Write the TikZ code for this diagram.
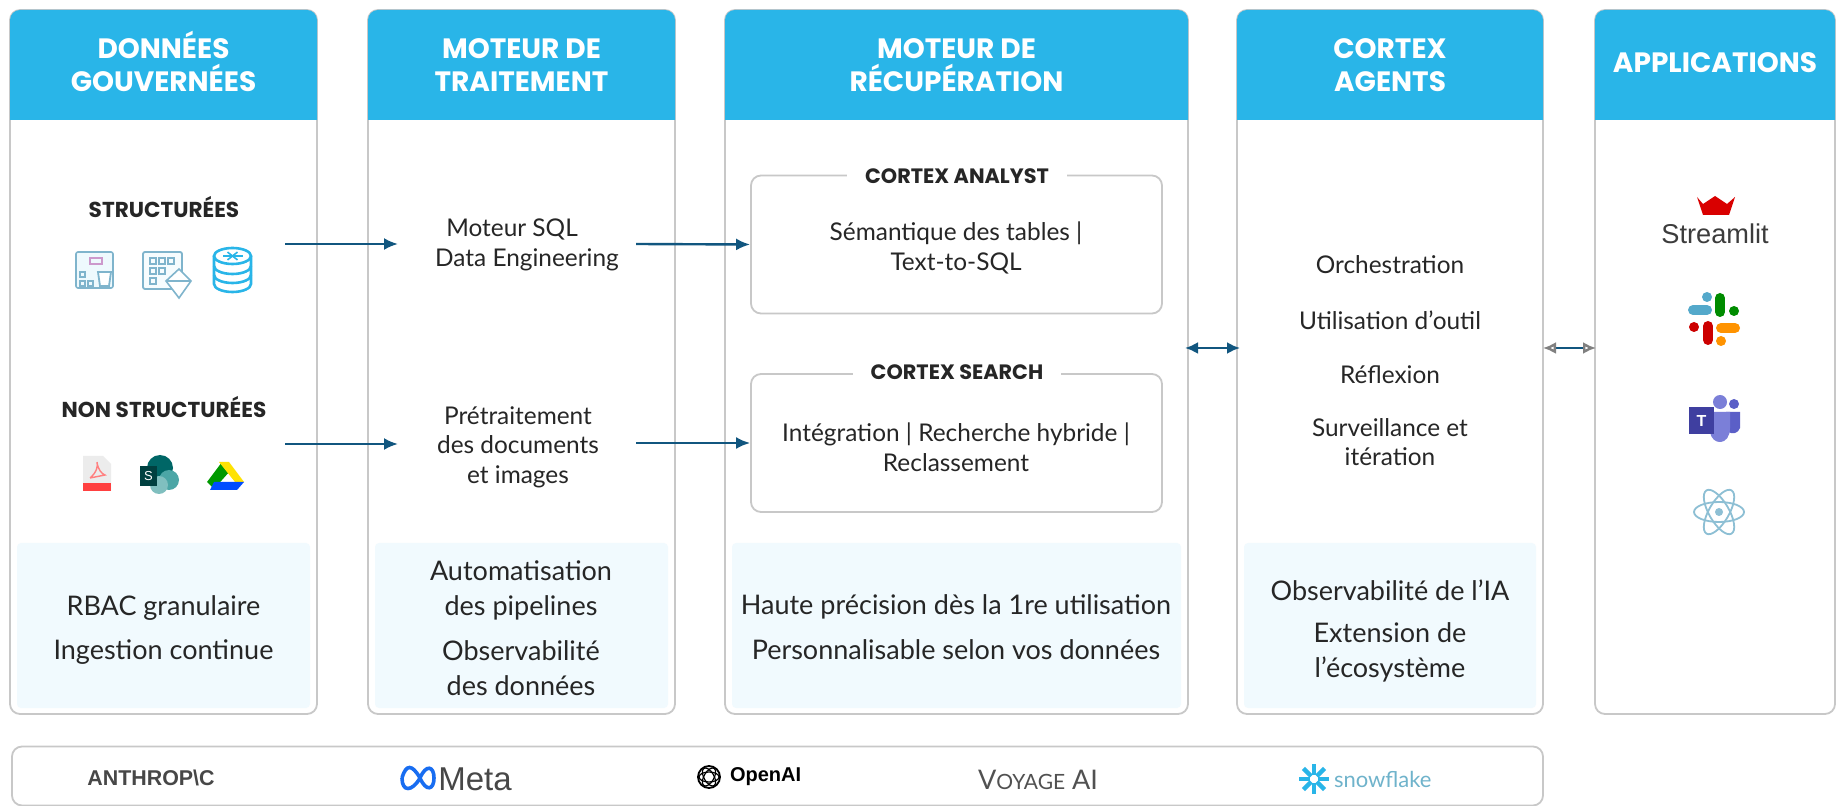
\documentclass[tikz,border=0pt]{standalone}
\usepackage{fontspec}
\setmainfont{Lato}
\newfontfamily\headfont{Poppins}
\newfontfamily\logofont{Liberation Sans}
\usetikzlibrary{arrows.meta}
\definecolor{headblue}{HTML}{29B5E8}
\definecolor{panelblue}{HTML}{F1FAFE}
\definecolor{framegray}{HTML}{C8C8C8}
\definecolor{arrowblue}{HTML}{11567F}
\definecolor{textdark}{HTML}{262626}
\definecolor{iconteal}{HTML}{7FB4CC}
\definecolor{teamsdark}{HTML}{3F3FA0}
\definecolor{teamsmid}{HTML}{5B5FC7}
\definecolor{teamslight}{HTML}{7B7FD8}
\tikzset{
    frame/.style={draw=framegray, line width=0.9pt, rounded corners=5pt, fill=white, inner sep=0pt},
    headtext/.style={text=white, font=\headfont\fontsize{14}{16.8}\selectfont\bfseries, align=center, anchor=base},
    bodytext/.style={text=textdark, font=\fontsize{12.2}{14.8}\selectfont, align=center},
    paneltext/.style={text=textdark, font=\fontsize{13.5}{17.5}\selectfont, align=center},
    subtext/.style={text=textdark, font=\headfont\fontsize{10.8}{12}\selectfont\bfseries},
    flow/.style={draw=arrowblue, line width=1.2pt, -{Latex[length=7pt,width=6pt]}},
    both/.style={draw=arrowblue, line width=1.2pt, {Latex[length=6.5pt,width=6pt]}-{Latex[length=6.5pt,width=6pt]}},
    open both/.style={draw=arrowblue, line width=1.2pt, {Latex[open,length=6.5pt,width=6pt,color=gray]}-{Latex[open,length=6.5pt,width=6pt,color=gray]}},
}
\begin{document}
\begin{tikzpicture}[x=0.5pt, y=-0.5pt]
    \useasboundingbox (0, 0) rectangle (1841, 806);

    % the five columns
    \foreach \name/\l/\r/\title/\ty in {
        data/10/317/{DONN\'EES\\GOUVERN\'EES}/92,
        engine/368/675/{MOTEUR DE\\TRAITEMENT}/92,
        retrieval/725/1188/{MOTEUR DE\\R\'ECUP\'ERATION}/92,
        agents/1237/1543/{CORTEX\\AGENTS}/92,
        apps/1595/1835/{APPLICATIONS}/73}{
        \node[frame, minimum width=(\r-\l)*0.5pt, minimum height=352pt] (\name) at ({(\l+\r)/2}, 362){};
        \fill[headblue] (\l, 120) [rounded corners=5pt] -- (\l, 10) -- (\r, 10) [sharp corners] -- (\r, 120) -- cycle;
        \node[headtext] (\name head) at ({(\l+\r)/2}, \ty){\title};
    }

    % light panels at the foot of four columns
    \foreach \l/\r in {17/310, 375/668, 732/1181, 1244/1536}{
        \fill[panelblue, rounded corners=2pt] (\l, 543) rectangle (\r, 708);
    }
    \node[paneltext] (p1) at (163.5, 608.5){RBAC granulaire};
    \node[paneltext] (p2) at (163.5, 652){Ingestion continue};
    \node[paneltext] (p3) at (521, 590.5){Automatisation\\des pipelines};
    \node[paneltext] (p4) at (521, 668){Observabilit\'e\\des donn\'ees};
    \node[paneltext] (p5) at (956, 606.5){Haute pr\'ecision d\`es la 1re utilisation};
    \node[paneltext] (p6) at (956, 650){Personnalisable selon vos donn\'ees};
    \node[paneltext] (p7) at (1390, 590){Observabilit\'e de l’IA};
    \node[paneltext] (p8) at (1390, 652){Extension de\\l’\'ecosyst\`eme};

    % left column
    \node[subtext] (structured) at (164, 207){STRUCTUR\'EES};
    \node[subtext] (unstructured) at (164, 407){NON STRUCTUR\'EES};

    % table icon
    \draw[iconteal, fill=headblue!8, line width=0.8pt, rounded corners=1pt] (76, 252) rectangle (113, 288);
    \foreach \a/\b in {80/272, 80/281, 88/281}{
        \draw[iconteal, line width=0.7pt] (\a, \b) rectangle (\a+5, \b+5);
    }
    \draw[violet!40, line width=0.7pt] (90, 258) rectangle (102, 264);
    \draw[iconteal, line width=0.9pt, fill=white] (98, 272) -- (111, 272) -- (109, 286) -- (100, 286) -- cycle;

    % grid and iceberg icon
    \draw[iconteal, fill=headblue!4, line width=0.9pt, rounded corners=1pt] (143, 252) rectangle (182, 289);
    \foreach \a in {150, 159, 168}{
        \draw[iconteal, line width=0.7pt] (\a, 258) rectangle (\a+6, 264);
    }
    \foreach \a/\b in {150/268, 159/268, 150/278}{
        \draw[iconteal, line width=0.7pt] (\a, \b) rectangle (\a+6, \b+6);
    }
    \draw[iconteal, line width=0.8pt, fill=white] (179, 269) -- (191, 281) -- (179, 298) -- (166, 281) -- cycle;
    \draw[iconteal, line width=0.6pt] (166, 281) -- (191, 281);

    % database icon
    \draw[headblue, line width=1.3pt] (214, 256) -- (214, 284) arc[start angle=180, end angle=0, x radius=18.5, y radius=8] -- (251, 256);
    \foreach \b in {266, 275}{
        \draw[headblue, line width=1.3pt] (214, \b) arc[start angle=180, end angle=0, x radius=18.5, y radius=8];
    }
    \draw[headblue, line width=1.3pt, fill=white] (232.5, 256) ellipse[x radius=18.5, y radius=8];
    \foreach \t in {0, 60, 120}{
        \draw[headblue, line width=0.8pt] ({232.5+10*cos(\t)}, {256+4.5*sin(\t)}) -- ({232.5-10*cos(\t)}, {256-4.5*sin(\t)});
    }

    % pdf icon
    \fill[gray!15] (83, 456) -- (103, 456) -- (111, 464) -- (111, 491) -- (83, 491) -- cycle;
    \fill[red!75] (83, 483) rectangle (111, 491);
    \draw[red!50, line width=0.7pt] (90, 478) .. controls (97, 472) and (98, 466) .. (97, 462) .. controls (98, 470) and (102, 474) .. (105, 475) -- (90, 478);

    % sharepoint icon
    \fill[teal!80!black] (160, 468) circle[radius=13];
    \fill[teal!70] (169, 480) circle[radius=10];
    \fill[teal!50] (159, 485) circle[radius=9];
    \fill[teal!50!black] (140, 466) rectangle (157, 486);
    \node[text=white, font=\logofont\fontsize{6.5}{7}\selectfont] (sp) at (148.5, 476){S};

    % drive icon
    \fill[green!60!black] (222, 462) -- (207, 482) -- (214, 489) -- (230, 471) -- cycle;
    \fill[yellow!85!orange] (219, 462) -- (229, 462) -- (244, 482) -- (235, 482) -- cycle;
    \fill[blue!70!cyan] (214, 482) -- (244, 482) -- (237, 490) -- (210, 490) -- cycle;

    % middle texts
    \node[bodytext] (sql) at (527, 245){Moteur SQL\hspace*{15pt}\\Data Engineering};
    \node[bodytext] (docs) at (518, 447){Pr\'etraitement\\des documents\\et images};

    % retrieval boxes
    \node[frame, minimum width=205.5pt, minimum height=69pt] (analyst) at (956.5, 244.5){};
    \node[frame, minimum width=205.5pt, minimum height=69pt] (search) at (956.5, 443){};
    \node[subtext, fill=white, inner xsep=9pt, font=\headfont\fontsize{10.4}{12}\selectfont\bfseries] (analyst title) at (957, 176){CORTEX ANALYST};
    \node[subtext, fill=white, inner xsep=9pt, font=\headfont\fontsize{10.4}{12}\selectfont\bfseries] (search title) at (957, 372){CORTEX SEARCH};
    \node[bodytext] (semantic) at (956, 248){S\'emantique des tables |\\Text-to-SQL};
    \node[bodytext] (hybrid) at (956, 447){Int\'egration | Recherche hybride |\\Reclassement};

    % agents column
    \node[bodytext] (a1) at (1390, 265){Orchestration};
    \node[bodytext] (a2) at (1390, 320){Utilisation d’outil};
    \node[bodytext] (a3) at (1390, 375){R\'eflexion};
    \node[bodytext] (a4) at (1390, 442){Surveillance et\\it\'eration};

    % arrows
    \coordinate (from s) at (285, 244);
    \coordinate (to s) at (398, 244);
    \coordinate (from u) at (285, 444);
    \coordinate (to u) at (398, 444);
    \coordinate (from sql) at (636, 244);
    \coordinate (from docs) at (636, 443);
    \coordinate (both a) at (1185, 348);
    \coordinate (both b) at (1240, 348);
    \coordinate (open a) at (1543, 348);
    \coordinate (open b) at (1596, 348);
    \draw[flow] (from s) -- (to s);
    \draw[flow] (from u) -- (to u);
    \draw[flow] (from sql) -- (analyst.west);
    \draw[flow] (from docs) -- (search.west);
    \draw[both] (both a) -- (both b);
    \draw[open both] (open a) -- (open b);

    % apps column
    \fill[red!85!black] (1697, 197) -- (1703, 204) -- (1715, 196) -- (1727, 204) -- (1735, 197) -- (1729, 215) -- (1703, 215) -- cycle;
    \node[text=textdark!90, font=\logofont\fontsize{13.6}{14}\selectfont] (streamlit) at (1715, 234){Streamlit};

    % slack
    \foreach \c/\a/\b/\cc/\d/\e/\f in {
        cyan!60!gray/1693/310/1707/310/1707/297,
        green!55!black/1720/298/1720/312/1734/311,
        orange!85!yellow/1735/328/1721/328/1721/341,
        red!80!black/1708/340/1708/326/1694/327}{
        \draw[\c, line width=5pt, line cap=round] (\a, \b) -- (\cc, \d);
        \fill[\c] (\e, \f) circle[radius=5];
    }

    % teams
    \fill[teamslight] (1720, 402) circle[radius=7];
    \fill[teamsmid] (1734, 404) circle[radius=5];
    \fill[teamsmid] (1726, 412) -- (1740, 412) -- (1740, 428) .. controls (1738, 434) and (1732, 434) .. (1728, 432) -- cycle;
    \fill[teamslight] (1710, 412) -- (1730, 412) -- (1730, 428) .. controls (1730, 446) and (1712, 446) .. (1710, 432) -- cycle;
    \fill[teamsdark] (1689, 407) rectangle (1714, 434);
    \node[text=white, font=\logofont\bfseries\fontsize{8}{9}\selectfont] (teams) at (1701.5, 420.5){T};

    % react
    \foreach \t in {0, 60, 120}{
        \draw[cyan!50!gray!70, line width=0.9pt, rotate around={\t:(1719, 512)}] (1719, 512) ellipse[x radius=25, y radius=10];
    }
    \fill[cyan!50!gray!70] (1719, 512) circle[radius=4];

    % bottom bar with the model logos
    \node[frame, minimum width=765.5pt, minimum height=29.5pt] (models) at (777.5, 776){};
    \node[text=textdark!85, font=\logofont\bfseries\fontsize{10.7}{12}\selectfont] (anthropic) at (151, 778){ANTHROP\textbackslash C};
    \draw[headblue!60!blue, line width=1.8pt] (402, 778) .. controls (406, 764) and (412, 764) .. (420, 778) .. controls (426, 792) and (434, 790) .. (434, 778) .. controls (434, 766) and (426, 764) .. (420, 778) .. controls (412, 792) and (402, 792) .. (402, 778);
    \node[text=textdark!85, font=\logofont\fontsize{16.5}{18}\selectfont, anchor=west, inner sep=0pt] (meta) at (438, 779){Meta};
    \draw[black, line width=0.9pt] (709, 777) circle[radius=11];
    \foreach \t in {0, 60, 120}{
        \draw[black, line width=0.6pt, rotate around={\t:(709, 777)}] (709, 777) ellipse[x radius=10, y radius=5];
    }
    \node[text=black, font=\logofont\bfseries\fontsize{10}{11}\selectfont, anchor=west] (openai) at (723, 777){OpenAI};
    \node[text=textdark!80, font=\fontsize{13.5}{14}\selectfont] (voyage) at (1038, 780){V{\fontsize{10.5}{11}\selectfont OYAGE} AI};
    \foreach \t in {0, 45, ..., 315}{
        \draw[headblue, line width=2.2pt, rotate around={\t:(1314, 779)}] (1318, 779) -- (1329, 779);
    }
    \node[text=headblue!60!gray!80, font=\fontsize{11}{12}\selectfont, anchor=west] (snow) at (1327, 779){snowflake};
\end{tikzpicture}
\end{document}
